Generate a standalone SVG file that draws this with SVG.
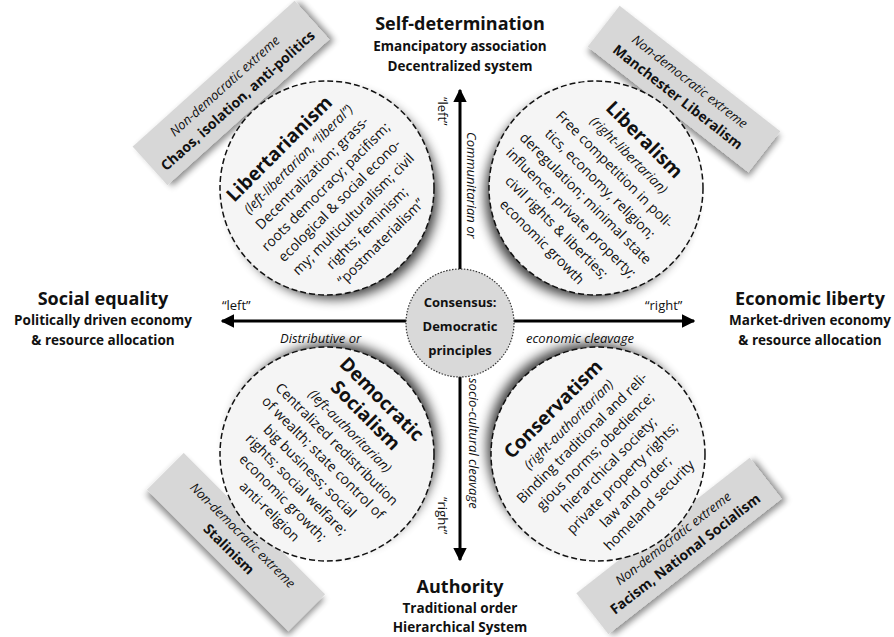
<svg xmlns="http://www.w3.org/2000/svg" width="894" height="637" viewBox="0 0 894 637">
<style>
text{font-family:"Open Sans","Noto Sans","Liberation Sans",sans-serif;fill:#111}
.h1{font-size:18px;font-weight:bold;text-anchor:middle}
.h2{font-size:13.5px;font-weight:bold;text-anchor:middle}
.ax{font-size:13px}
.axi{font-size:13px;font-style:italic}
.t{font-size:19px;font-weight:bold;text-anchor:middle}
.i{font-size:13.5px;font-style:italic;text-anchor:middle}
.b{font-size:14px;text-anchor:middle}
.bi{font-size:13px;font-style:italic;text-anchor:middle}
.bb{font-size:14px;font-weight:bold;text-anchor:middle}
.c{font-size:13px;font-weight:bold;text-anchor:middle}
.circ{fill:#f5f5f5;stroke:#111;stroke-width:1.5;stroke-dasharray:6 3}
.sh{fill:#000;opacity:.75;filter:url(#blur)}
.box{fill:#d7d7d7;filter:url(#bshadow)}
.axis{stroke:#000;stroke-width:3}
</style>
<defs>
<filter id="blur" x="-30%" y="-30%" width="160%" height="160%"><feGaussianBlur stdDeviation="6"/></filter>
<filter id="bshadow" x="-20%" y="-50%" width="140%" height="200%"><feDropShadow dx="3" dy="4" stdDeviation="3" flood-color="#000" flood-opacity=".45"/></filter>
<marker id="ah" viewBox="0 0 10 10" refX="9" refY="5" markerWidth="4.5" markerHeight="4.5" orient="auto-start-reverse"><path d="M0,0 L10,5 L0,10 z" fill="#000"/></marker>
</defs>
<rect width="894" height="637" fill="#fff"/>

<g id="box-tl" transform="translate(231,93) rotate(-42)">
<rect class="box" x="-109" y="-26" width="218" height="52"/>
<text class="bi" x="0" y="-5">Non-democratic extreme</text>
<text class="bb" x="0" y="15">Chaos, isolation, anti-politics</text>
</g>
<g id="box-tr" transform="translate(684,89) rotate(38)">
<rect class="box" x="-102" y="-26" width="204" height="52"/>
<text class="bi" x="0" y="-5">Non-democratic extreme</text>
<text class="bb" x="0" y="15">Manchester Liberalism</text>
</g>
<g id="box-bl" transform="translate(236,542) rotate(45)">
<rect class="box" x="-100" y="-26" width="200" height="52"/>
<text class="bi" x="0" y="-5">Non-democratic extreme</text>
<text class="bb" x="0" y="15">Stalinism</text>
</g>
<g id="box-br" transform="translate(679,546) rotate(-38)">
<rect class="box" x="-110" y="-26" width="220" height="52"/>
<text class="bi" x="0" y="-5">Non-democratic extreme</text>
<text class="bb" x="0" y="15">Facism, National Socialism</text>
</g>

<g id="connectors">
<line class="axis" x1="460" y1="321" x2="460" y2="90" marker-end="url(#ah)"/>
<line class="axis" x1="460" y1="321" x2="460" y2="560" marker-end="url(#ah)"/>
<line class="axis" x1="460" y1="321" x2="222" y2="321" marker-end="url(#ah)"/>
<line class="axis" x1="460" y1="321" x2="694" y2="321" marker-end="url(#ah)"/>
<text class="ax" transform="translate(438,97) rotate(90)">“left”</text>
<text class="axi" transform="translate(467,132) rotate(90)">Communitarian or</text>
<text class="axi" transform="translate(469,378) rotate(90)">socio-cultural cleavage</text>
<text class="ax" transform="translate(438,497) rotate(90)">“right”</text>
<text class="ax" x="222" y="310">“left”</text>
<text class="axi" x="280" y="343">Distributive or</text>
<text class="axi" x="526" y="343">economic cleavage</text>
<text class="ax" x="645" y="310">“right”</text>
</g>

<g id="libertarianism">
<circle class="sh" cx="334" cy="195" r="104"/>
<circle class="circ" cx="327" cy="188" r="107"/>
<g transform="translate(327,188) rotate(-45)">
<text class="t" x="-6" y="-55">Libertarianism</text>
<text class="i" y="-36">(left-libertarian, “liberal”)</text>
<text class="b" y="-16.5">Decentralization; grass-</text>
<text class="b" y="3">roots democracy; pacifism;</text>
<text class="b" y="22.5">ecological &amp; social econo-</text>
<text class="b" y="42">my; multiculturalism; civil</text>
<text class="b" y="61.5">rights; feminism;</text>
<text class="b" y="81">“postmaterialism”</text>
</g>
</g>

<g id="liberalism">
<circle class="sh" cx="589" cy="195" r="104"/>
<circle class="circ" cx="596" cy="188" r="107"/>
<g transform="translate(596,188) rotate(45)">
<text class="t" y="-62">Liberalism</text>
<text class="i" y="-42">(right-libertarian)</text>
<text class="b" y="-21.5">Free competition in poli-</text>
<text class="b" y="-1">tics, economy, religion;</text>
<text class="b" y="19.5">deregulation; minimal state</text>
<text class="b" y="40">influence; private property;</text>
<text class="b" y="60.5">civil rights &amp; liberties;</text>
<text class="b" y="81">economic growth</text>
</g>
</g>

<g id="democratic-socialism">
<circle class="sh" cx="333" cy="447" r="104"/>
<circle class="circ" cx="327" cy="454" r="107"/>
<g transform="translate(327,454) rotate(45)">
<text class="t" y="-71">Democratic</text>
<text class="t" y="-48">Socialism</text>
<text class="i" y="-28">(left-authoritarian)</text>
<text class="b" y="-9">Centralized redistribution</text>
<text class="b" y="10">of wealth; state control of</text>
<text class="b" y="29">big business; social</text>
<text class="b" y="48">rights; social welfare;</text>
<text class="b" y="67">economic growth;</text>
<text class="b" y="86">anti-religion</text>
</g>
</g>

<g id="conservatism">
<circle class="sh" cx="591" cy="447" r="104"/>
<circle class="circ" cx="598" cy="454" r="107"/>
<g transform="translate(598,454) rotate(-45)">
<text class="t" y="-57">Conservatism</text>
<text class="i" y="-37">(right-authoritarian)</text>
<text class="b" y="-18">Binding traditional and reli-</text>
<text class="b" y="1">gious norms; obedience;</text>
<text class="b" y="20">hierarchical society;</text>
<text class="b" y="39">private property rights;</text>
<text class="b" y="58">law and order;</text>
<text class="b" y="77">homeland security</text>
</g>
</g>

<g id="consensus">
<circle cx="460" cy="323" r="54" fill="#d9d9d9" stroke="#333" stroke-width="1.2" stroke-dasharray="1.5 1.5"/>
<text class="c" x="460" y="307">Consensus:</text>
<text class="c" x="460" y="331">Democratic</text>
<text class="c" x="460" y="355">principles</text>
</g>

<g id="self-determination">
<text class="h1" x="460" y="30">Self-determination</text>
<text class="h2" x="460" y="51">Emancipatory association</text>
<text class="h2" x="460" y="71">Decentralized system</text>
</g>
<g id="social-equality">
<text class="h1" x="103" y="305">Social equality</text>
<text class="h2" x="103" y="325">Politically driven economy</text>
<text class="h2" x="103" y="345">&amp; resource allocation</text>
</g>
<g id="economic-liberty">
<text class="h1" x="810" y="305">Economic liberty</text>
<text class="h2" x="810" y="325">Market-driven economy</text>
<text class="h2" x="810" y="345">&amp; resource allocation</text>
</g>
<g id="authority">
<text class="h1" x="460" y="593">Authority</text>
<text class="h2" x="460" y="613">Traditional order</text>
<text class="h2" x="460" y="632">Hierarchical System</text>
</g>
</svg>
